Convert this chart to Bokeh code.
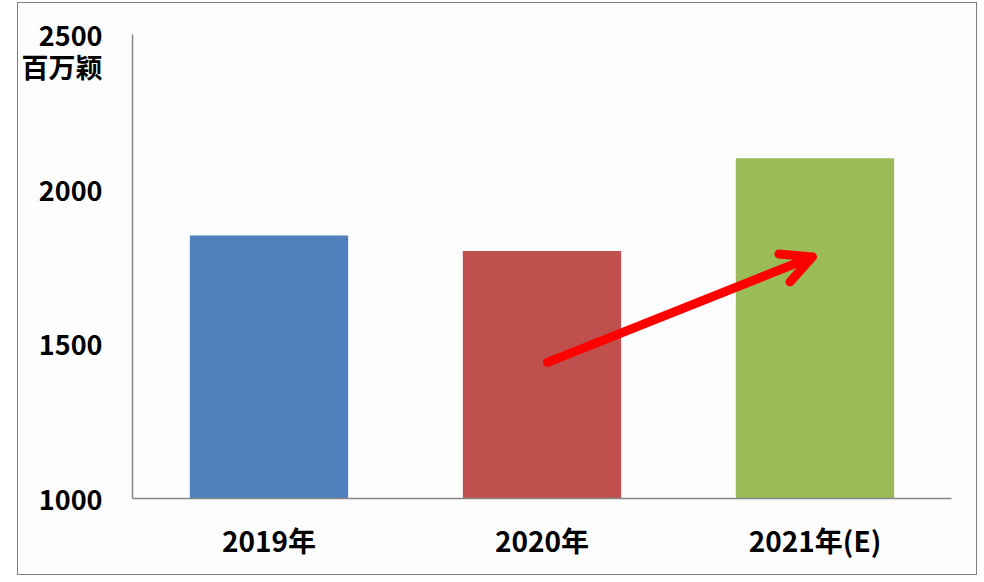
from bokeh.plotting import figure
from bokeh.models import Range1d, FactorRange, Arrow, OpenHead, ColumnDataSource, FixedTicker
from bokeh.embed import file_html
from bokeh.resources import INLINE

# ---- data ----
categories = ["2019年", "2020年", "2021年(E)"]
values = [1850, 1800, 2100]
colors = ["#4F81BD", "#C0504D", "#9BBB59"]
y_ticks = [1000, 1500, 2000, 2500]
unit_label = "百万颖"
unit_label_y = 2395          # the unit text sits just under the 2500 tick
# arrow in category-synthetic x coordinates (category centre = index + 0.5) and data y
arrow_x = [1.52, 2.49]
arrow_y = [1440, 1781]

FONT = "Noto Sans CJK SC"
W, H = 960, 573

p = figure(
    x_range=FactorRange(*categories, range_padding=0),
    y_range=Range1d(y_ticks[0], y_ticks[-1]),
    width=W, height=H,
    output_backend="svg", toolbar_location=None,
    min_border_left=113, min_border_right=27,
    min_border_top=31, min_border_bottom=78,
    background_fill_color="#FDFDFE", border_fill_color="#FDFDFE",
)
p.styles = {"border": "1.5px solid #808080", "margin-left": "17px", "margin-top": "2px"}
p.outline_line_color = None
p.xgrid.grid_line_color = None
p.ygrid.grid_line_color = None

src = ColumnDataSource(dict(cat=categories, val=values, col=colors))
p.vbar(x="cat", top="val", bottom=y_ticks[0], width=0.58, source=src,
       fill_color="col", line_color=None)

for ax in (p.xaxis[0], p.yaxis[0]):
    ax.axis_line_color = "#868686"
    ax.axis_line_width = 1.5
    ax.major_tick_line_color = None
    ax.minor_tick_line_color = None
    ax.major_label_text_font = FONT
    ax.major_label_text_font_style = "bold"
    ax.major_label_text_color = "#000000"

p.yaxis.ticker = FixedTicker(ticks=y_ticks + [unit_label_y])
p.yaxis.major_label_overrides = {unit_label_y: unit_label}
p.yaxis.major_label_text_font_size = "27px"
p.yaxis.major_label_standoff = 24
p.xaxis.major_label_text_font_size = "28px"
p.xaxis.major_label_standoff = 15

p.add_layout(Arrow(x_start=arrow_x[0], y_start=arrow_y[0], x_end=arrow_x[1], y_end=arrow_y[1],
                   line_color="#FF0000", line_width=9, line_cap="round",
                   end=OpenHead(size=30, line_color="#FF0000", line_width=9,
                                line_cap="round", line_join="round")))

open("out.html", "w").write(file_html(p, INLINE))
